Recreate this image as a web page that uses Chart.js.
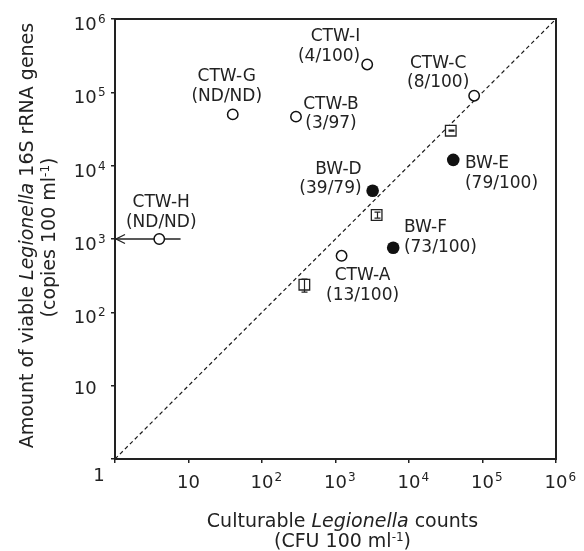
<!DOCTYPE html>
<html>
<head>
<meta charset="utf-8">
<script src="https://cdn.jsdelivr.net/npm/chart.js@4.4.1/dist/chart.umd.min.js"></script>
<style>
  html, body { margin: 0; padding: 0; background: #fff; }
  canvas { display: block; }
</style>
</head>
<body>
<canvas id="chart" width="584" height="551"></canvas>
<script>
// open circles: cooling tower water
const ctwNames = ["CTW-A", "CTW-B", "CTW-C", "CTW-G", "CTW-H", "CTW-I"];
const ctwRatios = ["(13/100)", "(3/97)", "(8/100)", "(ND/ND)", "(ND/ND)", "(4/100)"];
const ctwCfu = [1210, 290, 77000, 40, 4, 2700];
const ctwCopies = [590, 46600, 90000, 50000, 1000, 240000];

// filled circles: bath water
const bwNames = ["BW-D", "BW-E", "BW-F"];
const bwRatios = ["(39/79)", "(79/100)", "(73/100)"];
const bwCfu = [3200, 40000, 6100];
const bwCopies = [4560, 12000, 760];

// squares with error bars
const sqCfu = [377, 3630, 37000];
const sqCopies = [238, 2125, 30000];
const sqLow = [189, 1930, 29500];
const sqHigh = [285, 2330, 30500];

// CTW-H culture count is an upper bound (arrow to the left)
const ctwHBar = [1, 7.8];

const tickExps = [0, 1, 2, 3, 4, 5, 6];

// where each label sits relative to its point (px)
const labelLayout = {
  "CTW-A": { align: "center", dx: 21, dy: 20 },
  "CTW-B": { align: "center", dx: 35, dy: -12.5 },
  "CTW-C": { align: "center", dx: -36, dy: -32.5 },
  "CTW-G": { align: "center", dx: -6, dy: -37.5 },
  "CTW-H": { align: "center", dx: 2, dy: -36 },
  "CTW-I": { align: "right", dx: -7, dy: -27.5 },
  "BW-D": { align: "right", dx: -11, dy: -21.5 },
  "BW-E": { align: "left", dx: 11.7, dy: 4 },
  "BW-F": { align: "left", dx: 10.7, dy: -20 }
};

const ink = "#222";
const FONT = "'DejaVu Sans', Verdana, sans-serif";

function pts(xs, ys) {
  return xs.map((v, i) => ({ x: v, y: ys[i] }));
}

function drawRich(ctx, parts, cx, baseline) {
  let w = 0;
  parts.forEach(p => { ctx.font = p.font; w += ctx.measureText(p.text).width; });
  let x = cx - w / 2;
  ctx.textAlign = "left";
  parts.forEach(p => {
    ctx.font = p.font;
    ctx.fillText(p.text, x, baseline + (p.rise || 0));
    x += ctx.measureText(p.text).width;
  });
}

const decor = {
  id: "decor",
  afterDatasetsDraw(chart) {
    const { ctx, scales: { x, y } } = chart;
    ctx.save();
    ctx.strokeStyle = ink;
    ctx.fillStyle = ink;

    // error bars inside the squares
    ctx.lineWidth = 1.2;
    sqCfu.forEach((v, i) => {
      const px = Math.round(x.getPixelForValue(v)) + 0.5;
      const y1 = y.getPixelForValue(sqHigh[i]);
      const y2 = y.getPixelForValue(sqLow[i]);
      ctx.beginPath();
      ctx.moveTo(px, y1); ctx.lineTo(px, y2);
      ctx.moveTo(px - 3, y1); ctx.lineTo(px + 3, y1);
      ctx.moveTo(px - 3, y2); ctx.lineTo(px + 3, y2);
      ctx.stroke();
    });

    // arrow head for CTW-H
    const hi = ctwNames.indexOf("CTW-H");
    const ay = y.getPixelForValue(ctwCopies[hi]);
    const ax = x.getPixelForValue(ctwHBar[0]) + 1;
    ctx.lineWidth = 1.3;
    ctx.beginPath();
    ctx.moveTo(ax + 9, ay - 4.5); ctx.lineTo(ax, ay); ctx.lineTo(ax + 9, ay + 4.5);
    ctx.stroke();

    // point labels
    ctx.font = "17px " + FONT;
    ctx.textBaseline = "middle";
    const put = (name, ratio, vx, vy) => {
      const L = labelLayout[name];
      const px = x.getPixelForValue(vx) + L.dx;
      const py = y.getPixelForValue(vy) + L.dy;
      ctx.textAlign = L.align;
      ctx.fillText(name, px, py);
      ctx.fillText(ratio, px, py + 19.5);
    };
    ctwNames.forEach((n, i) => put(n, ctwRatios[i], ctwCfu[i], ctwCopies[i]));
    bwNames.forEach((n, i) => put(n, bwRatios[i], bwCfu[i], bwCopies[i]));
    ctx.restore();
  },
  afterDraw(chart) {
    const { ctx, chartArea: a, scales: { x, y } } = chart;
    ctx.save();
    ctx.strokeStyle = ink;
    ctx.fillStyle = ink;
    ctx.lineWidth = 2;
    ctx.strokeRect(a.left, a.top, a.right - a.left, a.bottom - a.top);

    ctx.textBaseline = "alphabetic";
    const base = "18px " + FONT;
    const sup = "12px " + FONT;

    // corner label shared by both axes
    ctx.font = base;
    ctx.textAlign = "center";
    ctx.fillText("1", a.left - 16, a.bottom + 22);

    tickExps.filter(e => e > 0).forEach(e => {
      // x axis
      const px = x.getPixelForValue(10 ** e);
      ctx.font = base;
      ctx.textAlign = "center";
      ctx.fillText("10", px, a.bottom + 29);
      const hw = ctx.measureText("10").width / 2;
      if (e > 1) {
        ctx.font = sup;
        ctx.textAlign = "left";
        ctx.fillText(String(e), px + hw + 1, a.bottom + 22);
      }
      // y axis
      const py = y.getPixelForValue(10 ** e);
      const bl = py + (e > 1 ? 11 : 8.5);
      ctx.font = base;
      ctx.textAlign = "right";
      ctx.fillText("10", a.left - 18.3, bl);
      if (e > 1) {
        ctx.font = sup;
        ctx.textAlign = "left";
        ctx.fillText(String(e), a.left - 17, bl - 7);
      }
    });

    // axis titles
    const tf = "19px " + FONT;
    const ti = "italic 19px " + FONT;
    const ts = "12px " + FONT;
    drawRich(ctx, [
      { text: "Culturable ", font: tf },
      { text: "Legionella", font: ti },
      { text: " counts", font: tf }
    ], 342.5, 527);
    drawRich(ctx, [
      { text: "(CFU 100 ml", font: tf },
      { text: "-1", font: ts, rise: -6 },
      { text: ")", font: tf }
    ], 342.5, 547);

    ctx.save();
    ctx.translate(33, 235.5);
    ctx.rotate(-Math.PI / 2);
    drawRich(ctx, [
      { text: "Amount of viable ", font: tf },
      { text: "Legionella", font: ti },
      { text: " 16S rRNA genes", font: tf }
    ], 0, 0);
    ctx.restore();
    ctx.save();
    ctx.translate(55, 237.5);
    ctx.rotate(-Math.PI / 2);
    drawRich(ctx, [
      { text: "(copies 100 ml", font: tf },
      { text: "-1", font: ts, rise: -6 },
      { text: ")", font: tf }
    ], 0, 0);
    ctx.restore();
    ctx.restore();
  }
};

const hIdx = ctwNames.indexOf("CTW-H");

const logAxis = {
  type: "logarithmic",
  min: 1,
  max: 1e6,
  afterBuildTicks: s => { s.ticks = tickExps.map(e => ({ value: 10 ** e })); },
  ticks: { display: false },
  grid: { drawOnChartArea: false, drawTicks: true, tickLength: 4, color: ink, lineWidth: 1.5 },
  border: { display: false }
};

new Chart(document.getElementById("chart"), {
  type: "scatter",
  data: {
    datasets: [
      {
        type: "line",
        data: [{ x: 1, y: 1 }, { x: 1e6, y: 1e6 }],
        borderColor: "#1a1a1a",
        borderWidth: 1.2,
        borderDash: [4, 3],
        pointRadius: 0,
        order: 3
      },
      {
        type: "line",
        data: ctwHBar.map(v => ({ x: v, y: ctwCopies[hIdx] })),
        borderColor: ink,
        borderWidth: 1.3,
        pointRadius: 0,
        order: 2
      },
      {
        data: pts(ctwCfu, ctwCopies),
        pointStyle: "circle",
        pointRadius: 5.2,
        borderWidth: 1.5,
        borderColor: "#111",
        backgroundColor: "#fff",
        order: 1
      },
      {
        data: pts(bwCfu, bwCopies),
        pointStyle: "circle",
        pointRadius: 6.3,
        borderWidth: 0,
        backgroundColor: "#111",
        order: 1
      },
      {
        data: pts(sqCfu, sqCopies),
        pointStyle: "rect",
        pointRadius: 7.5,
        borderWidth: 1.3,
        borderColor: ink,
        backgroundColor: "#fff",
        order: 1
      }
    ]
  },
  options: {
    responsive: false,
    animation: false,
    devicePixelRatio: 1,
    layout: { padding: { left: 111, top: 19, right: 28, bottom: 88 } },
    plugins: { legend: { display: false }, tooltip: { enabled: false } },
    scales: { x: logAxis, y: { ...logAxis } }
  },
  plugins: [decor]
});
</script>
</body>
</html>
